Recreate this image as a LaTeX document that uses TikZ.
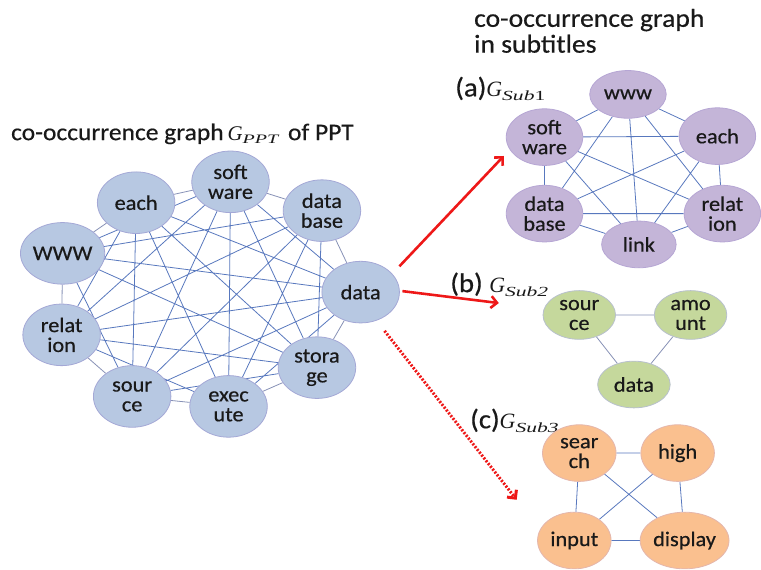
\documentclass[tikz,border=0pt]{standalone}
\usepackage{fontspec}
\usepackage{graphicx}
\setmainfont{Carlito}[FakeStretch=1.07,FakeBold=0.5]
\newfontfamily\tms{Liberation Serif}
\usetikzlibrary{shapes.geometric,arrows.meta}
\pgfdeclarelayer{back}
\pgfdeclarelayer{bg}
\pgfsetlayers{back,bg,main}
\definecolor{bluefill}{RGB}{183,200,226}
\definecolor{blueline}{RGB}{164,168,214}
\definecolor{edgeblue}{RGB}{88,120,190}
\definecolor{edgegray}{RGB}{135,145,182}
\definecolor{purplefill}{RGB}{196,181,216}
\definecolor{purpleline}{RGB}{182,166,212}
\definecolor{greenfill}{RGB}{197,216,156}
\definecolor{greenline}{RGB}{184,192,205}
\definecolor{orangefill}{RGB}{250,192,143}
\definecolor{orangeline}{RGB}{228,182,172}
\definecolor{arrred}{RGB}{238,24,24}
\definecolor{txt}{RGB}{25,25,25}
\newcommand{\gsub}[4]{{\tms\itshape\fontsize{#1}{#1}\selectfont G}\raisebox{-#3}{\scalebox{1.55}[1]{\tms\itshape\fontsize{#2}{#2}\selectfont #4}}}
\begin{document}
\begin{tikzpicture}[x=1pt,y=-1pt,
  vtx/.style={ellipse, draw, line width=0.8pt, inner sep=0pt, align=center,
    font=\fontsize{21}{20}\selectfont, text=txt},
  pptnode/.style={vtx, fill=bluefill, draw=blueline, minimum width=78pt, minimum height=62pt},
  anode/.style={vtx, fill=purplefill, draw=purpleline, minimum width=77pt, minimum height=57pt},
  bnode/.style={vtx, fill=greenfill, draw=greenline, minimum width=73pt, minimum height=49pt},
  cnode/.style={vtx, fill=orangefill, draw=orangeline, minimum width=74pt, minimum height=57pt},
  ed/.style={draw=edgeblue, line width=0.8pt},
  ring/.style={draw=edgegray, line width=0.8pt},
  redarr/.style={draw=arrred, line width=2.6pt, -{Straight Barb[length=6pt,width=12pt]}},
  reddot/.style={draw=arrred, line width=3pt, dash pattern=on 2pt off 1.6pt, -{Straight Barb[length=6pt,width=12pt]}},
  lbl/.style={anchor=base west, inner sep=0pt, text=txt}
]
\begin{pgfonlayer}{back}
\useasboundingbox[fill=white] (0,0) rectangle (761,571);
\end{pgfonlayer}

% titles
\node[lbl, font=\fontsize{26}{26}\selectfont] (t1) at (477,27) {co-occurrence graph};
\node[lbl, font=\fontsize{26}{26}\selectfont] (t2) at (477,53) {in subtitles};
\node[lbl, font=\fontsize{24}{24}\selectfont] (t3) at (11,141) {co-occurrence graph\,\gsub{21}{13}{3pt}{PPT}\, of PPT};
\node[lbl, font=\fontsize{27}{27}\selectfont] (la) at (458,97) {(a)\gsub{22}{14}{4pt}{Sub\upshape1}};
\node[lbl, font=\fontsize{27}{27}\selectfont] (lb) at (453,294) {(b) \gsub{22}{14}{4pt}{Sub2}};
\node[lbl, font=\fontsize{27}{27}\selectfont] (lc) at (473,431) {(c)\gsub{22}{14}{4pt}{Sub3}};

% PPT graph
\node[pptnode] (each) at (137,204) {each};
\node[pptnode] (soft) at (232,183) {soft\\ware};
\node[pptnode] (dbase) at (324,212) {data\\base};
\node[pptnode] (www) at (63,255) {WWW};
\node[pptnode] (data) at (363,294) {data};
\node[pptnode] (rel) at (62,337) {relat\\ion};
\node[pptnode] (sto) at (319,370) {stora\\ge};
\node[pptnode] (src) at (133,399) {sour\\ce};
\node[pptnode] (exe) at (230,409) {exec\\ute};

\begin{pgfonlayer}{bg}
\draw[ring] (each)--(soft) (soft)--(dbase) (each)--(www) (www)--(rel) (rel)--(src)
  (src)--(exe) (exe)--(sto) (sto)--(data) (dbase)--(data);
\draw[ed] (each)--(rel) (each)--(src) (each)--(exe) (each)--(sto) (each)--(data)
  (soft)--(www) (soft)--(rel) (soft)--(src) (soft)--(exe) (soft)--(sto) (soft)--(data)
  (dbase)--(www) (dbase)--(rel) (dbase)--(src) (dbase)--(exe) (dbase)--(sto)
  (www)--(sto) (www)--(data) (www)--(src)
  (rel)--(data) (rel)--(sto) (rel)--(exe)
  (src)--(data) (src)--(sto)
  (exe)--(data);
\end{pgfonlayer}

% (a)
\node[anode, minimum height=48pt] (aw) at (632,95) {www};
\node[anode] (as) at (548,138) {soft\\ware};
\node[anode] (ae) at (722,137) {each};
\node[anode] (ad) at (548,215) {data\\base};
\node[anode] (ar) at (727,215) {relat\\ion};
\node[anode, minimum width=75pt, minimum height=47pt] (al) at (643,246) {link};
\begin{pgfonlayer}{bg}
\draw[ed] (as)--(aw) (aw)--(ae) (as)--(ae) (as)--(ad) (ae)--(ar) (ad)--(al) (al)--(ar)
  (as)--(ar) (as)--(al) (aw)--(ad) (aw)--(al) (aw)--(ar) (ae)--(ad) (ae)--(al) (ad)--(ar);
\end{pgfonlayer}

% (b)
\node[bnode] (bs) at (583,317) {sour\\ce};
\node[bnode] (ba) at (695,317) {amo\\unt};
\node[bnode, minimum height=47pt] (bd) at (638,387) {data};
\begin{pgfonlayer}{bg}
\draw[ring] (bs)--(ba) (bs)--(bd) (ba)--(bd);
\end{pgfonlayer}

% (c)
\node[cnode] (cs) at (583,456) {sear\\ch};
\node[cnode] (ch) at (682,456) {high};
\node[cnode] (ci) at (578,544) {input};
\node[cnode] (cd) at (689,544) {display};
\begin{pgfonlayer}{bg}
\draw[ed] (cs)--(ch) (cs)--(ci) (ch)--(cd) (ci)--(cd) (cs)--(cd) (ch)--(ci);
\end{pgfonlayer}

% arrows
\coordinate (s1) at (402,268);
\coordinate (e1) at (507,157);
\coordinate (s2) at (405,293);
\coordinate (e2) at (502,305);
\coordinate (s3) at (387,333);
\coordinate (e3) at (520,503);
\draw[redarr] (s1) -- (e1);
\draw[redarr] (s2) -- (e2);
\draw[reddot] (s3) -- (e3);
\end{tikzpicture}
\end{document}
